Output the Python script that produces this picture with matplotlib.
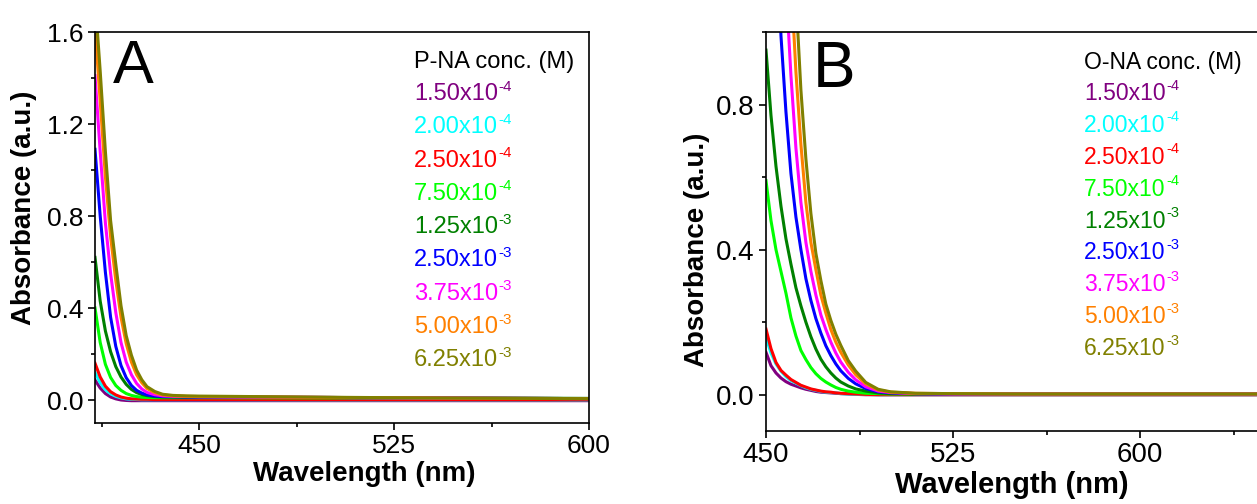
import numpy as np
import matplotlib
matplotlib.use("Agg")
import matplotlib.pyplot as plt
from matplotlib.ticker import MultipleLocator

plt.rcParams['font.family'] = ['Liberation Sans', 'DejaVu Sans']

# ---------------- data ----------------
colors = ['#800080', '#00FFFF', '#FF0000', '#00FF00', '#008000',
          '#0000FF', '#FF00FF', '#FF8000', '#808000']
conc_base = ['1.50x10', '2.00x10', '2.50x10', '7.50x10', '1.25x10',
             '2.50x10', '3.75x10', '5.00x10', '6.25x10']
conc_exp = ['-4', '-4', '-4', '-4', '-3', '-3', '-3', '-3', '-3']

# Panel A (P-NA)
wl_a = [410, 412, 414, 416, 418, 420, 422, 424, 426, 428, 430, 433, 436,
        440, 445, 450, 500, 550, 600]
a_purple = [0.087, 0.052, 0.028, 0.013, 0.005, 0.0, -0.002, -0.003, -0.003,
            -0.003, -0.003, -0.003, -0.003, -0.003, -0.003, -0.003, -0.003, -0.003, -0.003]
a_cyan = [0.12, 0.075, 0.045, 0.027, 0.016, 0.009, 0.005, 0.003, 0.002,
          0.001, 0.001, 0.001, 0.001, 0.001, 0.001, 0.001, 0.0, 0.0, 0.0]
a_red = [0.16, 0.10, 0.06, 0.036, 0.022, 0.013, 0.008, 0.005, 0.004,
         0.003, 0.003, 0.002, 0.002, 0.002, 0.002, 0.002, 0.001, 0.001, 0.001]
a_lime = [0.40, 0.25, 0.155, 0.098, 0.063, 0.042, 0.028, 0.02, 0.015,
          0.012, 0.011, 0.01, 0.01, 0.01, 0.01, 0.01, 0.009, 0.008, 0.006]
a_dkgreen = [0.62, 0.43, 0.30, 0.21, 0.145, 0.10, 0.068, 0.046, 0.032,
             0.024, 0.019, 0.015, 0.013, 0.013, 0.012, 0.012, 0.011, 0.009, 0.007]
a_blue = [1.09, 0.80, 0.555, 0.36, 0.233, 0.15, 0.097, 0.063, 0.042,
          0.03, 0.022, 0.017, 0.015, 0.014, 0.013, 0.013, 0.011, 0.008, 0.006]
a_magenta = [1.41, 1.08, 0.77, 0.55, 0.38, 0.25, 0.165, 0.11, 0.072,
             0.048, 0.033, 0.023, 0.018, 0.016, 0.015, 0.014, 0.011, 0.008, 0.006]
a_orange = [1.62, 1.30, 0.97, 0.71, 0.52, 0.36, 0.245, 0.165, 0.11,
            0.075, 0.05, 0.032, 0.022, 0.018, 0.016, 0.015, 0.011, 0.008, 0.006]
a_olive = [1.75, 1.43, 1.08, 0.78, 0.59, 0.41, 0.28, 0.195, 0.13,
           0.088, 0.058, 0.037, 0.025, 0.02, 0.018, 0.017, 0.012, 0.008, 0.006]

# Panel B (O-NA)
wl_b = [450, 452, 454, 456, 458, 460, 462, 464, 466, 468, 470, 472, 474, 476,
        478, 480, 483, 486, 490, 495, 500, 510, 525, 550, 575, 600, 625, 650, 675]
b_purple = [0.117, 0.08, 0.06, 0.046, 0.036, 0.029, 0.024, 0.019, 0.015, 0.012,
            0.009, 0.007, 0.006, 0.005, 0.004, 0.003, 0.002, 0.001, 0.0, 0.0,
            0.0, 0.0, 0.0, 0.0, 0.0, 0.0, 0.0, 0.0, 0.0]
b_cyan = [0.158, 0.115, 0.085, 0.065, 0.05, 0.039, 0.032, 0.025, 0.019, 0.015,
          0.012, 0.009, 0.007, 0.006, 0.005, 0.003, 0.002, 0.001, 0.001, 0.0,
          0.0, 0.0, 0.0, 0.0, 0.0, 0.0, 0.0, 0.0, 0.0]
b_red = [0.181, 0.127, 0.089, 0.067, 0.054, 0.042, 0.034, 0.026, 0.021, 0.016,
         0.013, 0.01, 0.008, 0.007, 0.005, 0.004, 0.003, 0.002, 0.001, 0.0,
         0.0, 0.0, 0.0, 0.0, 0.0, 0.0, 0.0, 0.0, 0.0]
b_lime = [0.59, 0.48, 0.40, 0.34, 0.28, 0.212, 0.162, 0.122, 0.097, 0.075,
          0.058, 0.045, 0.035, 0.027, 0.02, 0.015, 0.01, 0.007, 0.004, 0.003,
          0.002, 0.002, 0.002, 0.002, 0.002, 0.002, 0.002, 0.002, 0.002]
b_dkgreen = [0.95, 0.77, 0.63, 0.52, 0.43, 0.36, 0.295, 0.245, 0.20, 0.16,
             0.126, 0.098, 0.077, 0.06, 0.046, 0.035, 0.024, 0.016, 0.01, 0.005,
             0.003, 0.002, 0.002, 0.002, 0.002, 0.002, 0.002, 0.002, 0.002]
b_blue = [2.2, 1.7, 1.3, 0.99, 0.78, 0.61, 0.49, 0.40, 0.32, 0.26,
          0.21, 0.17, 0.135, 0.108, 0.085, 0.066, 0.045, 0.03, 0.017, 0.008,
          0.005, 0.003, 0.002, 0.002, 0.002, 0.002, 0.002, 0.002, 0.002]
b_magenta = [3.2, 2.5, 1.9, 1.45, 1.13, 0.88, 0.68, 0.53, 0.42, 0.34,
             0.275, 0.22, 0.18, 0.145, 0.115, 0.09, 0.062, 0.041, 0.022, 0.01,
             0.006, 0.003, 0.002, 0.002, 0.002, 0.002, 0.002, 0.002, 0.002]
b_orange = [4.3, 3.3, 2.5, 1.95, 1.5, 1.15, 0.89, 0.69, 0.53, 0.42,
            0.345, 0.275, 0.225, 0.18, 0.145, 0.117, 0.082, 0.055, 0.03, 0.013,
            0.007, 0.004, 0.003, 0.002, 0.002, 0.002, 0.002, 0.002, 0.002]
b_olive = [5.3, 4.1, 3.1, 2.4, 1.86, 1.43, 1.1, 0.84, 0.65, 0.50,
           0.39, 0.315, 0.25, 0.205, 0.167, 0.136, 0.094, 0.065, 0.034, 0.015,
           0.008, 0.004, 0.003, 0.002, 0.002, 0.002, 0.002, 0.002, 0.002]

series_a = [a_purple, a_cyan, a_red, a_lime, a_dkgreen, a_blue, a_magenta, a_orange, a_olive]
series_b = [b_purple, b_cyan, b_red, b_lime, b_dkgreen, b_blue, b_magenta, b_orange, b_olive]

# ---------------- figure ----------------
W, H = 1257, 504
fig = plt.figure(figsize=(W / 100, H / 100), dpi=100)


def px_axes(l, t, r, b):
    return fig.add_axes([l / W, 1 - b / H, (r - l) / W, (b - t) / H])


axA = px_axes(95, 32, 589, 423)
axB = px_axes(766, 32, 1327, 431)


def style(ax, tick_fs):
    for s in ax.spines.values():
        s.set_linewidth(1.2)
    ax.tick_params(which='both', direction='out', top=False, right=False,
                   width=1.2, labelsize=tick_fs, pad=3)
    ax.tick_params(which='major', length=5)
    ax.tick_params(which='minor', length=3)


def legend(ax, x, y_title, y0, dy, title, fs, sup_fs):
    ax.text(x, y_title, title, transform=ax.transAxes, fontsize=fs,
            color='black', va='baseline', ha='left')
    for i, (c, b, e) in enumerate(zip(colors, conc_base, conc_exp)):
        t = ax.text(x, y0 - i * dy, b, transform=ax.transAxes, fontsize=fs,
                    color=c, va='baseline', ha='left')
        ax.annotate(e, xy=(1, 1), xycoords=t, xytext=(0.3, 2.5),
                    textcoords='offset points', fontsize=sup_fs, color=c,
                    va='top', ha='left')


# Panel A
for vals, c in zip(series_a, colors):
    axA.plot(wl_a, vals, color=c, lw=2.2)
axA.set_xlim(410, 600)
axA.set_ylim(-0.1, 1.6)
axA.xaxis.set_major_locator(MultipleLocator(75))
axA.xaxis.set_minor_locator(MultipleLocator(37.5))
axA.yaxis.set_major_locator(MultipleLocator(0.4))
axA.yaxis.set_minor_locator(MultipleLocator(0.2))
axA.set_xticks([450, 525, 600])
style(axA, 19)
axA.set_xlabel('Wavelength (nm)', fontsize=20, fontweight='bold')
axA.set_ylabel('Absorbance (a.u.)', fontsize=20, fontweight='bold')
axA.xaxis.set_label_coords(0.545, -0.098)
axA.yaxis.set_label_coords(-0.118, 0.55)
axA.text(0.036, 0.87, 'A', transform=axA.transAxes, fontsize=44,
         va='baseline', ha='left')
hA = 391.0
legend(axA, 0.646, (423 - 68) / hA, (423 - 100) / hA, 33.3 / hA,
       'P-NA conc. (M)', 17, 11)

# Panel B
for vals, c in zip(series_b, colors):
    axB.plot(wl_b, vals, color=c, lw=2.2)
axB.set_xlim(450, 675)
axB.set_ylim(-0.1, 1.0)
axB.set_xticks([450, 525, 600])
axB.set_xticks([487.5, 562.5, 637.5, 675], minor=True)
axB.set_yticks([0.0, 0.4, 0.8])
axB.yaxis.set_minor_locator(MultipleLocator(0.2))
style(axB, 20)
axB.set_xlabel('Wavelength (nm)', fontsize=21, fontweight='bold')
axB.set_ylabel('Absorbance (a.u.)', fontsize=20, fontweight='bold')
axB.xaxis.set_label_coords(0.4385, -0.1)
axB.yaxis.set_label_coords(-0.1, 0.454)
axB.text(0.084, 0.862, 'B', transform=axB.transAxes, fontsize=46,
         va='baseline', ha='left')
hB = 399.0
legend(axB, 0.567, (431 - 69) / hB, (431 - 100) / hB, 31.9 / hB,
       'O-NA conc. (M)', 16.5, 10.5)

fig.savefig('out.png', dpi=100)
